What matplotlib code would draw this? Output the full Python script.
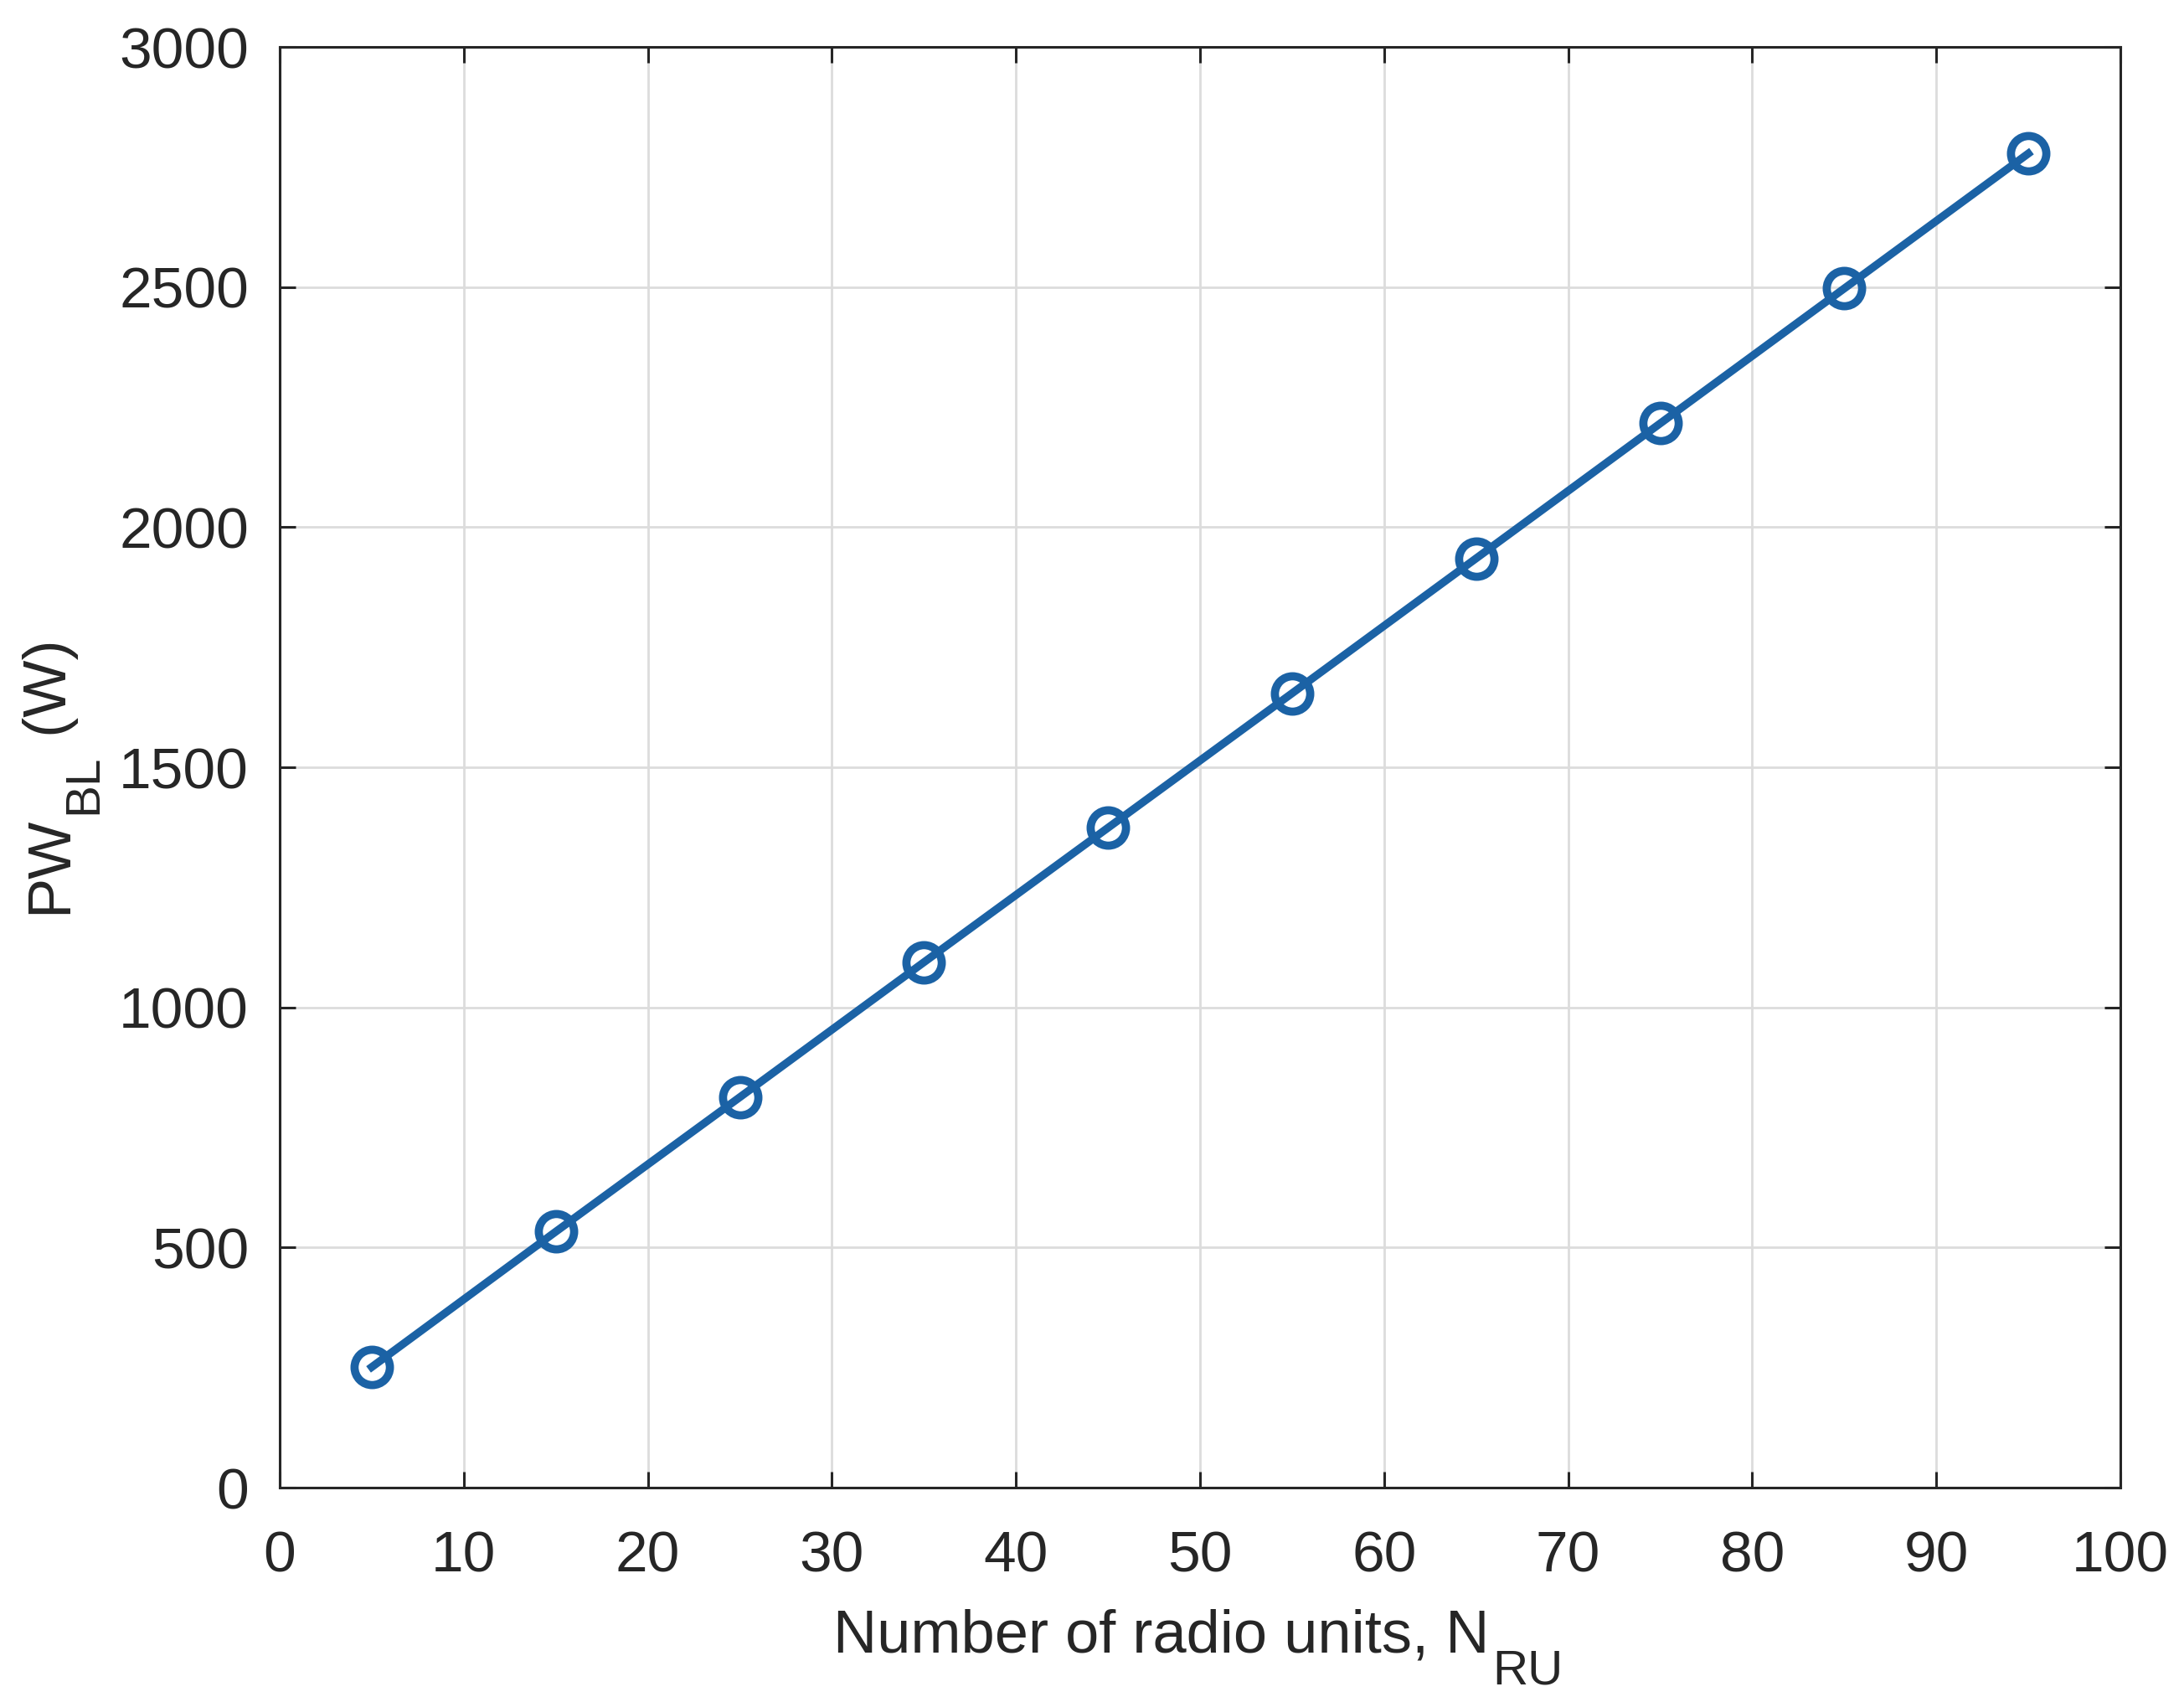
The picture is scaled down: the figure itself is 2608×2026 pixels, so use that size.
import matplotlib
matplotlib.use("Agg")
import matplotlib.pyplot as plt

# Data
n_ru = [5, 15, 25, 35, 45, 55, 65, 75, 85, 95]
pw_bl = [251, 533, 813, 1094, 1374, 1654, 1935, 2216, 2497, 2778]
x_ticks = [0, 10, 20, 30, 40, 50, 60, 70, 80, 90, 100]
y_ticks = [0, 500, 1000, 1500, 2000, 2500, 3000]

plt.rcParams['font.family'] = ['Liberation Sans', 'DejaVu Sans']
TXT = '#262626'
LINE = '#1b62a5'

fig = plt.figure(figsize=(13.04, 10.13), dpi=200)
ax = fig.add_axes([334/2608, 1 - 1776/2026, (2532-334)/2608, (1776-56)/2026])

ax.plot(n_ru, pw_bl, color=LINE, linewidth=3.4, marker='o', markersize=15.2,
        markeredgewidth=3.5, fillstyle='none', zorder=3)

ax.set_xlim(0, 100)
ax.set_ylim(0, 3000)
ax.set_xticks(x_ticks)
ax.set_yticks(y_ticks)
ax.grid(True, color='#dcdcdc', linewidth=1.0)
ax.set_axisbelow(True)

for s in ax.spines.values():
    s.set_linewidth(1.1)
    s.set_color(TXT)

ax.tick_params(axis='both', which='both', direction='in', length=7, width=1.1,
               color=TXT, labelcolor=TXT, labelsize=25, top=True, right=True)
ax.tick_params(axis='x', pad=18)
ax.tick_params(axis='y', pad=13.3)

# x label with subscript
ax.set_xlabel('Number of radio units, N', fontsize=26, color=TXT)
ax.xaxis.set_label_coords(0.479, -0.0843)
ax.xaxis.label.set_va('top')
ax.annotate('RU', xy=(1, 0), xycoords=ax.xaxis.label, xytext=(1.5, -8),
            textcoords='offset points', ha='left', va='baseline',
            fontsize=21, color=TXT, annotation_clip=False)

# y label with subscript
ax.set_ylabel('PW', fontsize=26, color=TXT)
ax.yaxis.set_label_coords(-0.1092, 0.432)
sub = ax.annotate('BL', xy=(1, 1), xycoords=ax.yaxis.label, xytext=(12, 1),
                  textcoords='offset points', ha='right', va='bottom',
                  rotation=90, fontsize=21, color=TXT, annotation_clip=False)
ax.annotate(' (W)', xy=(1, 1), xycoords=(ax.yaxis.label, sub), xytext=(0, 0),
            textcoords='offset points', ha='right', va='bottom',
            rotation=90, fontsize=26, color=TXT, annotation_clip=False)

fig.savefig('out.png', dpi=200, facecolor='white')
